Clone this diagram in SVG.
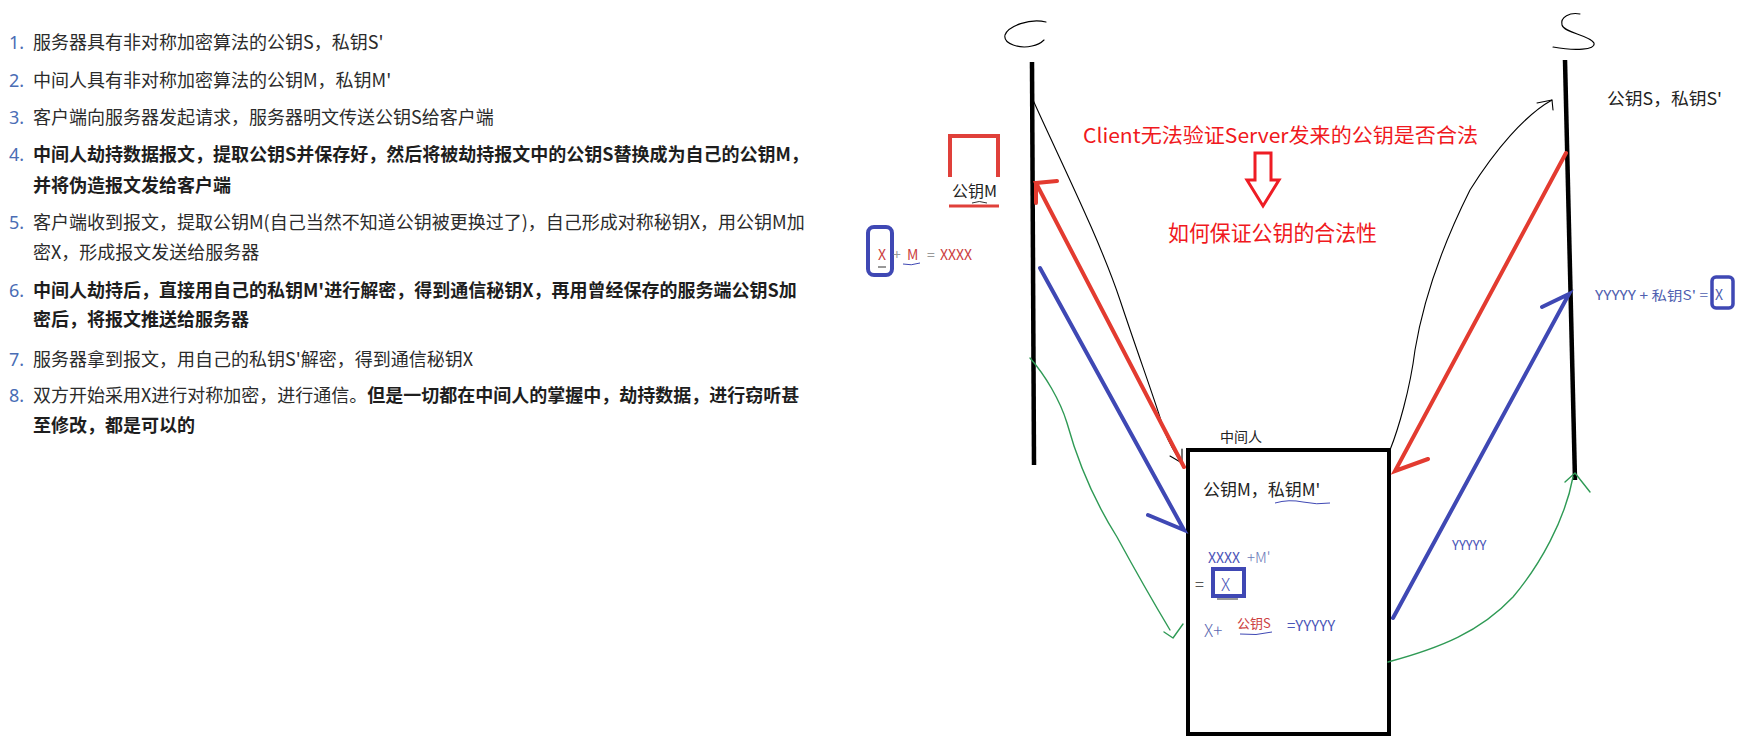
<svg xmlns="http://www.w3.org/2000/svg" width="1752" height="743" viewBox="0 0 1752 743">
<style>
.t{font-family:"Noto Sans CJK SC","Noto Sans",sans-serif;font-size:18px;fill:#2b2b2b}
.b{font-weight:bold;fill:#1e1e1e}
.n{font-family:"Noto Sans","Noto Sans CJK SC",sans-serif;font-size:18px;fill:#4a6db5}
.d{font-family:"Noto Sans CJK SC","Noto Sans",sans-serif}
.red{fill:#f01820}
.hb{fill:#4a55b8}
.hr{fill:#cc4040}
.blk{stroke:#000;fill:none;stroke-linecap:round;stroke-linejoin:round}
.rl{stroke:#e33b30;stroke-width:4;fill:none;stroke-linecap:round}
.bl{stroke:#3f48b4;stroke-width:4;fill:none;stroke-linecap:round}
.gl{stroke:#2f9a55;stroke-width:1.4;fill:none;stroke-linecap:round;stroke-linejoin:round}
.thin{stroke:#000;stroke-width:1.1;fill:none;stroke-linecap:round;stroke-linejoin:round}
</style>
<rect width="1752" height="743" fill="#fff"/>

<g id="steps">
<text class="n" x="9" y="49">1.</text>
<text class="t" x="33" y="49">服务器具有非对称加密算法的公钥S，私钥S'</text>
<text class="n" x="9" y="87">2.</text>
<text class="t" x="33" y="87">中间人具有非对称加密算法的公钥M，私钥M'</text>
<text class="n" x="9" y="124">3.</text>
<text class="t" x="33" y="124">客户端向服务器发起请求，服务器明文传送公钥S给客户端</text>
<text class="n" x="9" y="161">4.</text>
<text class="t b" x="33" y="161">中间人劫持数据报文，提取公钥S并保存好，然后将被劫持报文中的公钥S替换成为自己的公钥M，</text>
<text class="t b" x="33" y="192">并将伪造报文发给客户端</text>
<text class="n" x="9" y="229">5.</text>
<text class="t" x="33" y="229">客户端收到报文，提取公钥M(自己当然不知道公钥被更换过了)，自己形成对称秘钥X，用公钥M加</text>
<text class="t" x="33" y="259">密X，形成报文发送给服务器</text>
<text class="n" x="9" y="297">6.</text>
<text class="t b" x="33" y="297">中间人劫持后，直接用自己的私钥M'进行解密，得到通信秘钥X，再用曾经保存的服务端公钥S加</text>
<text class="t b" x="33" y="326">密后，将报文推送给服务器</text>
<text class="n" x="9" y="366">7.</text>
<text class="t" x="33" y="366">服务器拿到报文，用自己的私钥S'解密，得到通信秘钥X</text>
<text class="n" x="9" y="402">8.</text>
<text class="t" x="33" y="402">双方开始采用X进行对称加密，进行通信。<tspan class="b">但是一切都在中间人的掌握中，劫持数据，进行窃听甚</tspan></text>
<text class="t b" x="33" y="432">至修改，都是可以的</text>
</g>

<g id="client">
<path class="thin" d="M1046,22 C1030,18 1008,26 1005,35 C1003,44 1020,49 1032,46 C1038,45 1042,42 1044,40"/>
<line x1="1032" y1="62" x2="1034" y2="465" stroke="#000" stroke-width="4.5"/>
</g>

<g id="server">
<path class="thin" d="M1580,14 C1570,12 1560,17 1562,25 C1564,33 1590,35 1594,43 C1596,50 1575,51 1553,47"/>
<line x1="1565" y1="60" x2="1575" y2="480" stroke="#000" stroke-width="4.5"/>
<text class="d" x="1607" y="105" font-size="17" fill="#222" textLength="115" lengthAdjust="spacingAndGlyphs">公钥S，私钥S'</text>
</g>

<g id="client-key">
<path d="M950,177 V136 H998 V177" stroke="#e0403a" stroke-width="4" fill="none"/>
<text class="d" x="952" y="197" font-size="16" fill="#222">公钥M</text>
<line x1="949" y1="206" x2="999" y2="206" stroke="#e0403a" stroke-width="3"/>
<path d="M972,203 q7,-3 15,0" stroke="#333" stroke-width="1" fill="none"/>
</g>

<g id="client-encrypt">
<rect x="868" y="227" width="24" height="48" rx="6" fill="none" stroke="#3f48b4" stroke-width="4"/>
<text class="d hr" x="878" y="260" font-size="14">X</text>
<text class="d" x="893" y="260" font-size="14" fill="#999">+</text>
<text class="d hr" x="907" y="260" font-size="14">M</text>
<text class="d" x="927" y="260" font-size="14" fill="#999">=</text>
<text class="d hr" x="940" y="260" font-size="14">XXXX</text>
<line x1="878" y1="267" x2="886" y2="267" stroke="#333" stroke-width="1"/>
<path d="M903,264 q8,2 17,-1" stroke="#3f48b4" stroke-width="1" fill="none"/>
</g>

<g id="question">
<text class="d red" x="1083" y="143" font-size="20" textLength="395" lengthAdjust="spacingAndGlyphs">Client无法验证Server发来的公钥是否合法</text>
<polygon points="1255,153 1271,153 1271,180 1279,180 1263,206 1247,180 1255,180" fill="none" stroke="#ee1c24" stroke-width="3"/>
<text class="d red" x="1168" y="241" font-size="22" textLength="209" lengthAdjust="spacingAndGlyphs">如何保证公钥的合法性</text>
</g>

<g id="mitm">
<text class="d" x="1220" y="442" font-size="14" fill="#222">中间人</text>
<rect x="1188" y="450" width="201" height="284" fill="none" stroke="#000" stroke-width="4"/>
<text class="d" x="1203" y="496" font-size="17" fill="#222">公钥M，私钥M'</text>
<path d="M1275,503 q14,-4 28,-1 t27,1" stroke="#3f48b4" stroke-width="1" fill="none"/>
<text class="d hb" x="1208" y="563" font-size="14">XXXX</text>
<text class="d" x="1247" y="563" font-size="15" font-weight="300" fill="#6a78b8">+M'</text>
<text class="d" x="1195" y="590" font-size="16" fill="#555">=</text>
<rect x="1213" y="569" width="31" height="27" fill="none" stroke="#3f48b4" stroke-width="4"/>
<text class="d" x="1221" y="591" font-size="17" font-weight="300" fill="#4a55b8">X</text>
<line x1="1217" y1="599" x2="1238" y2="599" stroke="#333" stroke-width="1"/>
<text class="d" x="1204" y="637" font-size="17" font-weight="300" fill="#5a68b0">X+</text>
<text class="d hr" x="1237" y="628" font-size="13">公钥S</text>
<path d="M1240,634 q16,2 32,-2" stroke="#3f48b4" stroke-width="1" fill="none"/>
<text class="d hb" x="1287" y="631" font-size="15">=YYYYY</text>
</g>

<g id="server-decrypt">
<text class="d" x="1595" y="300" font-size="13" fill="#5060b0" textLength="113" lengthAdjust="spacingAndGlyphs">YYYYY + 私钥S' =</text>
<rect x="1712" y="277" width="21" height="31" rx="4" fill="none" stroke="#3f48b4" stroke-width="3.5"/>
<text class="d" x="1715" y="300" font-size="14" fill="#5060b0">X</text>
</g>

<g id="connectors">
<path class="thin" d="M1033,100 C1060,160 1100,240 1120,300 C1140,360 1155,400 1164,430 C1170,445 1176,455 1182,463"/>
<path class="thin" d="M1182,449 L1182,463 L1170,456"/>
<path class="thin" d="M1390,450 C1398,430 1410,390 1415,350 C1425,290 1450,230 1470,190 C1495,150 1525,115 1552,100"/>
<path class="thin" d="M1537,103 L1552,100 L1553,110"/>
<path class="rl" d="M1184,467 L1036,183 L1057,181 M1036,183 L1036,203"/>
<path class="rl" d="M1566,153 L1395,471 L1428,459"/>
<path class="bl" d="M1040,268 L1184,530 L1148,515"/>
<path class="bl" d="M1393,618 L1569,294 L1542,307"/>
<text class="d hb" x="1452" y="550" font-size="13">YYYYY</text>
<path class="gl" d="M1030,358 C1045,375 1060,400 1067,423 C1080,470 1100,510 1117,537 C1135,570 1155,605 1170,630"/>
<path class="gl" d="M1164,632 L1173,638 L1183,624"/>
<path class="gl" d="M1388,662 C1440,648 1480,632 1513,597 C1540,565 1565,520 1573,477"/>
<path class="gl" d="M1565,482 L1575,473 L1590,492"/>
</g>
</svg>
